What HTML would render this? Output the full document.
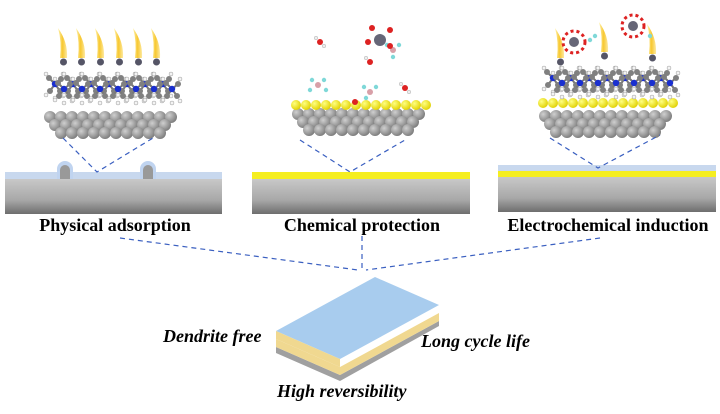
<!DOCTYPE html>
<html><head><style>
body{margin:0;background:#fff;}
svg{display:block;}
text{font-family:"Liberation Serif",serif;font-weight:bold;fill:#000;}
</style></head><body>
<svg width="720" height="414" viewBox="0 0 720 414" xmlns="http://www.w3.org/2000/svg">
<defs>
<linearGradient id="slab" x1="0" y1="0" x2="0" y2="1"><stop offset="0" stop-color="#c8c8c8"/><stop offset="0.6" stop-color="#a8a8a8"/><stop offset="1" stop-color="#6e6e6e"/></linearGradient>
<radialGradient id="ball" cx="0.35" cy="0.35" r="0.7"><stop offset="0" stop-color="#cfcfcf"/><stop offset="1" stop-color="#7a7a7a"/></radialGradient>
<radialGradient id="yb" cx="0.35" cy="0.35" r="0.7"><stop offset="0" stop-color="#ffff80"/><stop offset="1" stop-color="#e0d000"/></radialGradient>
<linearGradient id="flame" x1="0" y1="0" x2="1" y2="0"><stop offset="0" stop-color="#fff3b0"/><stop offset="0.5" stop-color="#f7c832"/><stop offset="1" stop-color="#fde9a0"/></linearGradient>
<g id="m">
<line x1="3" y1="6" x2="9" y2="12" stroke="#777" stroke-width="2"/><line x1="9" y1="12" x2="15" y2="7" stroke="#777" stroke-width="2"/>
<line x1="9" y1="12" x2="4" y2="19" stroke="#777" stroke-width="2"/><line x1="9" y1="12" x2="14" y2="19" stroke="#777" stroke-width="2"/>
<circle cx="3" cy="6" r="3" fill="#808080"/><circle cx="15" cy="7" r="3" fill="#808080"/>
<circle cx="4" cy="19" r="3" fill="#808080"/><circle cx="14" cy="19" r="3" fill="#808080"/>
<circle cx="9" cy="12" r="3.2" fill="#1a2fd0"/>
<circle cx="0" cy="2" r="2" fill="#f4f4f4" stroke="#999" stroke-width=".5"/><circle cx="17" cy="2" r="2" fill="#f4f4f4" stroke="#999" stroke-width=".5"/>
<circle cx="0" cy="23" r="2" fill="#f4f4f4" stroke="#999" stroke-width=".5"/><circle cx="17" cy="24" r="2" fill="#f4f4f4" stroke="#999" stroke-width=".5"/>
<circle cx="9" cy="26" r="2" fill="#f4f4f4" stroke="#999" stroke-width=".5"/>
</g>
<g id="mrow">
<use href="#m" x="0"/><use href="#m" x="18"/><use href="#m" x="36"/><use href="#m" x="54"/><use href="#m" x="72"/><use href="#m" x="90"/><use href="#m" x="108"/>
<use href="#m" x="9" y="5"/><use href="#m" x="27" y="5"/><use href="#m" x="45" y="5"/><use href="#m" x="63" y="5"/><use href="#m" x="81" y="5"/><use href="#m" x="99" y="5"/><use href="#m" x="117" y="5"/>
</g>
<g id="cluster">
<g fill="url(#ball)">
<circle cx="0" cy="0" r="6"/><circle cx="11" cy="0" r="6"/><circle cx="22" cy="0" r="6"/><circle cx="33" cy="0" r="6"/><circle cx="44" cy="0" r="6"/><circle cx="55" cy="0" r="6"/><circle cx="66" cy="0" r="6"/><circle cx="77" cy="0" r="6"/><circle cx="88" cy="0" r="6"/><circle cx="99" cy="0" r="6"/><circle cx="110" cy="0" r="6"/><circle cx="121" cy="0" r="6"/>
<circle cx="5" cy="8" r="6"/><circle cx="16" cy="8" r="6"/><circle cx="27" cy="8" r="6"/><circle cx="38" cy="8" r="6"/><circle cx="49" cy="8" r="6"/><circle cx="60" cy="8" r="6"/><circle cx="71" cy="8" r="6"/><circle cx="82" cy="8" r="6"/><circle cx="93" cy="8" r="6"/><circle cx="104" cy="8" r="6"/><circle cx="115" cy="8" r="6"/>
<circle cx="11" cy="16" r="6"/><circle cx="22" cy="16" r="6"/><circle cx="33" cy="16" r="6"/><circle cx="44" cy="16" r="6"/><circle cx="55" cy="16" r="6"/><circle cx="66" cy="16" r="6"/><circle cx="77" cy="16" r="6"/><circle cx="88" cy="16" r="6"/><circle cx="99" cy="16" r="6"/><circle cx="110" cy="16" r="6"/>
</g></g>
<g id="flameg"><path d="M-1,0 Q9,14 8,30 L1,30 Q3,14 -1,0Z" fill="url(#flame)"/><circle cx="4.5" cy="34" r="3.5" fill="#556" /></g>
</defs>

<!-- Panel 1 -->
<rect x="5" y="172" width="217" height="7" fill="#c8d8ee"/>
<path d="M57,179 v-10 a8,8 0 0 1 16,0 v10Z M140,179 v-10 a8,8 0 0 1 16,0 v10Z" fill="#c0d4f0"/>
<path d="M60,179 v-9 a5,5 0 0 1 10,0 v9Z M143,179 v-9 a5,5 0 0 1 10,0 v9Z" fill="#999"/>
<rect x="5" y="179" width="217" height="35" fill="url(#slab)"/>
<use href="#cluster" x="50" y="117"/>
<use href="#mrow" x="46" y="72"/>
<use href="#flameg" x="59" y="28"/><use href="#flameg" x="77" y="28"/><use href="#flameg" x="96" y="28"/><use href="#flameg" x="115" y="28"/><use href="#flameg" x="134" y="28"/><use href="#flameg" x="152" y="28"/>
<polyline points="63,138 97,172 153,138" fill="none" stroke="#3a5fc0" stroke-width="1.2" stroke-dasharray="5,4"/>
<text x="115" y="231" font-size="18" text-anchor="middle">Physical adsorption</text>

<!-- Panel 2 -->
<rect x="252" y="172" width="218" height="7" fill="#f5ee20"/>
<rect x="252" y="179" width="218" height="35" fill="url(#slab)"/>
<use href="#cluster" x="298" y="114"/>
<g fill="url(#yb)">
<circle cx="296" cy="105" r="5"/><circle cx="306" cy="105" r="5"/><circle cx="316" cy="105" r="5"/><circle cx="326" cy="105" r="5"/><circle cx="336" cy="105" r="5"/><circle cx="346" cy="105" r="5"/><circle cx="356" cy="105" r="5"/><circle cx="366" cy="105" r="5"/><circle cx="376" cy="105" r="5"/><circle cx="386" cy="105" r="5"/><circle cx="396" cy="105" r="5"/><circle cx="406" cy="105" r="5"/><circle cx="416" cy="105" r="5"/><circle cx="426" cy="105" r="5"/>
</g>
<g>
<circle cx="318" cy="85" r="3" fill="#d8a0a8"/><circle cx="312" cy="80" r="2.2" fill="#7fd8d8"/><circle cx="324" cy="80" r="2.2" fill="#7fd8d8"/><circle cx="310" cy="90" r="2.2" fill="#7fd8d8"/><circle cx="326" cy="90" r="2.2" fill="#7fd8d8"/>
<circle cx="370" cy="92" r="3" fill="#d8a0a8"/><circle cx="364" cy="87" r="2.2" fill="#7fd8d8"/><circle cx="376" cy="87" r="2.2" fill="#7fd8d8"/><circle cx="366" cy="98" r="2.2" fill="#7fd8d8"/>
<circle cx="393" cy="50" r="3" fill="#d8a0a8"/><circle cx="387" cy="45" r="2.2" fill="#7fd8d8"/><circle cx="399" cy="45" r="2.2" fill="#7fd8d8"/><circle cx="393" cy="57" r="2.2" fill="#7fd8d8"/>
<circle cx="380" cy="40" r="6" fill="#667"/>
<circle cx="372" cy="28" r="3" fill="#d22"/><circle cx="390" cy="30" r="3" fill="#d22"/><circle cx="368" cy="42" r="3" fill="#d22"/><circle cx="390" cy="46" r="3" fill="#d22"/>
<circle cx="320" cy="42" r="3" fill="#d22"/><circle cx="316" cy="38" r="1.8" fill="#eee" stroke="#999" stroke-width=".4"/><circle cx="324" cy="46" r="1.8" fill="#eee" stroke="#999" stroke-width=".4"/>
<circle cx="370" cy="62" r="3" fill="#d22"/><circle cx="366" cy="58" r="1.8" fill="#eee" stroke="#999" stroke-width=".4"/>
<circle cx="405" cy="88" r="3" fill="#d22"/><circle cx="401" cy="84" r="1.8" fill="#eee" stroke="#999" stroke-width=".4"/><circle cx="409" cy="92" r="1.8" fill="#eee" stroke="#999" stroke-width=".4"/>
<circle cx="355" cy="102" r="3" fill="#d22"/>
</g>
<polyline points="300,140 350,172 405,140" fill="none" stroke="#3a5fc0" stroke-width="1.2" stroke-dasharray="5,4"/>
<text x="362" y="231" font-size="18" text-anchor="middle">Chemical protection</text>

<!-- Panel 3 -->
<rect x="498" y="165" width="218" height="6" fill="#c8d8ee"/>
<rect x="498" y="171" width="218" height="6" fill="#f5ee20"/>
<rect x="498" y="177" width="218" height="35" fill="url(#slab)"/>
<use href="#cluster" x="545" y="116"/>
<g fill="url(#yb)">
<circle cx="543" cy="103" r="5"/><circle cx="553" cy="103" r="5"/><circle cx="563" cy="103" r="5"/><circle cx="573" cy="103" r="5"/><circle cx="583" cy="103" r="5"/><circle cx="593" cy="103" r="5"/><circle cx="603" cy="103" r="5"/><circle cx="613" cy="103" r="5"/><circle cx="623" cy="103" r="5"/><circle cx="633" cy="103" r="5"/><circle cx="643" cy="103" r="5"/><circle cx="653" cy="103" r="5"/><circle cx="663" cy="103" r="5"/><circle cx="673" cy="103" r="5"/>
</g>
<use href="#mrow" x="544" y="66"/>
<use href="#flameg" x="556" y="28"/><use href="#flameg" x="600" y="22"/><use href="#flameg" x="648" y="24"/>
<circle cx="574" cy="42" r="11" fill="none" stroke="#d22" stroke-width="3" stroke-dasharray="3,3"/><circle cx="574" cy="42" r="5" fill="#667"/>
<circle cx="633" cy="26" r="11" fill="none" stroke="#d22" stroke-width="3" stroke-dasharray="3,3"/><circle cx="633" cy="26" r="5" fill="#667"/>
<circle cx="590" cy="40" r="2.2" fill="#7fd8d8"/><circle cx="595" cy="36" r="2.2" fill="#7fd8d8"/><circle cx="650" cy="36" r="2.2" fill="#7fd8d8"/>
<polyline points="550,138 598,168 660,135" fill="none" stroke="#3a5fc0" stroke-width="1.2" stroke-dasharray="5,4"/>
<text x="608" y="231" font-size="18" text-anchor="middle">Electrochemical induction</text>

<!-- converging -->
<g fill="none" stroke="#3a5fc0" stroke-width="1.2" stroke-dasharray="5,4">
<line x1="120" y1="238" x2="358" y2="270"/>
<line x1="362" y1="236" x2="362" y2="268"/>
<line x1="600" y1="238" x2="366" y2="270"/>
</g>

<!-- bottom plate -->
<polygon points="276,347 340,375 439,321 439,326 340,381 276,353" fill="#a0a0a0"/>
<polygon points="276,339 340,367 439,313 439,321 340,375 276,347" fill="#f0d890"/>
<polygon points="276,331 375,277 439,305 340,359" fill="#a8ccee"/>
<polygon points="276,331 340,359 340,367 276,339" fill="#f0d890"/>
<text x="163" y="342" font-size="18" font-style="italic">Dendrite free</text>
<text x="421" y="347" font-size="18" font-style="italic">Long cycle life</text>
<text x="277" y="397" font-size="18" font-style="italic">High reversibility</text>
</svg>
</body></html>
